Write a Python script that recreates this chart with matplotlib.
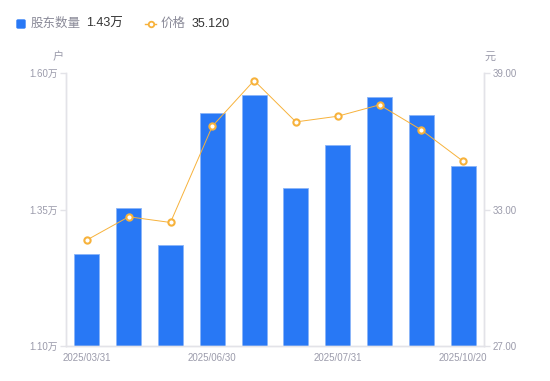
import matplotlib
matplotlib.use('Agg')
import matplotlib.pyplot as plt
from matplotlib.patches import FancyBboxPatch
from matplotlib.lines import Line2D
import numpy as np

plt.rcParams['font.family'] = ['Liberation Sans', 'Noto Sans CJK SC', 'DejaVu Sans']

# data
dates = ['2025/03/31', '2025/04/30', '2025/05/31', '2025/06/30', '2025/07/10',
         '2025/07/20', '2025/07/31', '2025/08/31', '2025/09/30', '2025/10/20']
holders = [1.268, 1.352, 1.285, 1.527, 1.559, 1.390, 1.469, 1.556, 1.523, 1.429]  # 万户
price = [31.66, 32.68, 32.43, 36.66, 38.67, 36.85, 37.10, 37.60, 36.50, 35.12]
left_ticks = [1.10, 1.35, 1.60]
right_ticks = [27.00, 33.00, 39.00]

BLUE = '#2878f5'
ORANGE = '#f7b23b'
GRID = '#e3e3e8'
TXT = '#9b9bab'

W, H = 550, 381
fig = plt.figure(figsize=(W / 100, H / 100), dpi=100)
ax = fig.add_axes([66 / W, 1 - 346 / H, (484 - 66) / W, (346 - 73) / H])
ax2 = ax.twinx()

x = np.arange(len(dates))
ax.bar(x, holders, width=0.6, color=BLUE, edgecolor='#8ab4f8', linewidth=0.6, zorder=2)
ax.set_xlim(-0.5, len(dates) - 0.5)
ax.set_ylim(left_ticks[0], left_ticks[-1])
ax.set_yticks(left_ticks)
ax.set_yticklabels(['%.2f万' % v for v in left_ticks])

ax2.plot(x, price, color=ORANGE, lw=0.7, marker='o', ms=4.5, mfc='white',
         mec=ORANGE, mew=1.5, zorder=3)
ax2.set_ylim(right_ticks[0], right_ticks[-1])
ax2.set_yticks(right_ticks)
ax2.set_yticklabels(['%.2f' % v for v in right_ticks])

ax.set_xticks(x[::3])
ax.set_xticklabels(dates[::3])

for a in (ax, ax2):
    for s in a.spines.values():
        s.set_color(GRID)
        s.set_linewidth(1)
    a.spines['top'].set_visible(False)
    a.tick_params(axis='both', colors=GRID, labelcolor=TXT, labelsize=7, length=4, width=1, pad=2)
ax.tick_params(axis='x', length=0, pad=5)
ax2.set_zorder(ax.get_zorder() + 1)
ax2.patch.set_visible(False)

# axis units
fig.text(58 / W, 1 - 57 / H, '户', color=TXT, fontsize=8, ha='center', va='center')
fig.text(490 / W, 1 - 57 / H, '元', color=TXT, fontsize=8, ha='center', va='center')

# legend drawn by hand
ly = 1 - 24 / H
fig.patches.append(FancyBboxPatch(
    (17 / W, 1 - 28 / H), 8 / W, 8 / H, boxstyle='round,pad=0,rounding_size=0.002',
    transform=fig.transFigure, color=BLUE))
fig.text(31 / W, ly, '股东数量', color='#8a8a98', fontsize=9, va='center')
fig.text(86 / W, ly, '1.43万', color='#333333', fontsize=9, va='center')
fig.lines.append(Line2D([145 / W, 156 / W], [ly, ly], transform=fig.transFigure,
                        color=ORANGE, lw=1))
fig.lines.append(Line2D([150.5 / W], [ly], transform=fig.transFigure, lw=0,
                        marker='o', ms=4, mfc='white', mec=ORANGE, mew=1.3))
fig.text(161 / W, ly, '价格', color='#8a8a98', fontsize=9, va='center')
fig.text(192 / W, ly, '35.120', color='#333333', fontsize=9, va='center')

fig.savefig('out.png', dpi=100)
